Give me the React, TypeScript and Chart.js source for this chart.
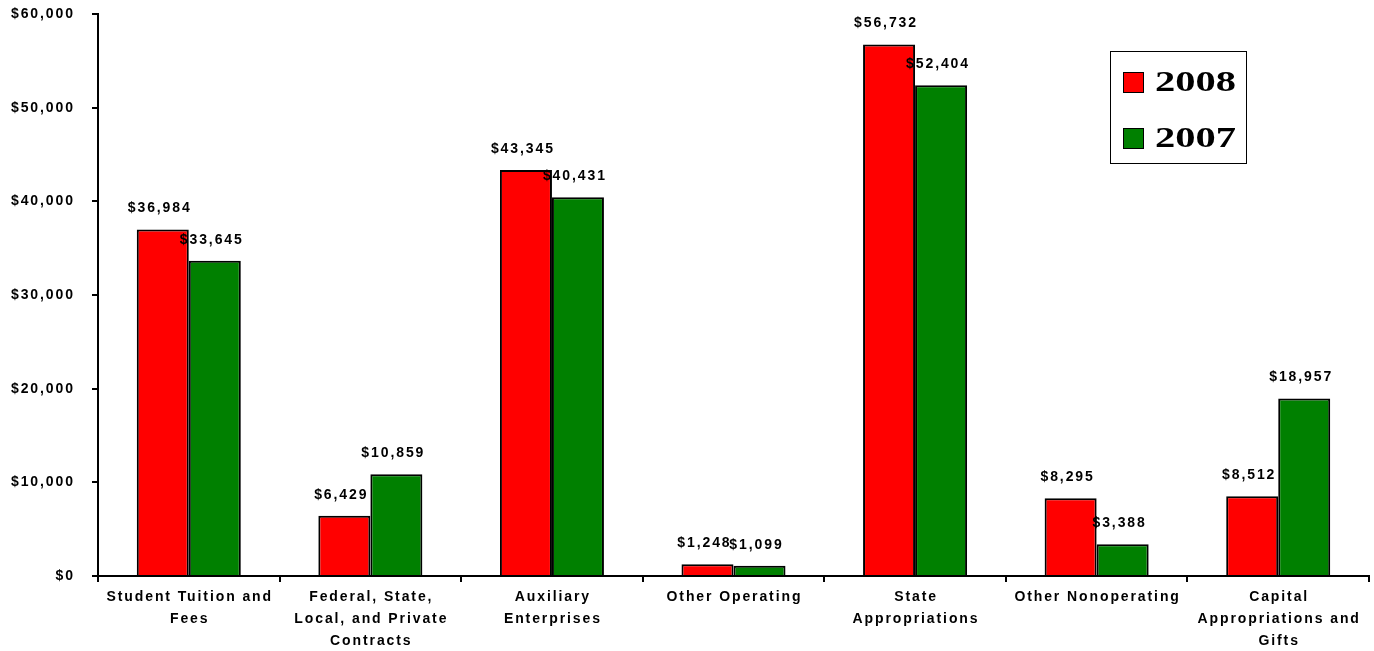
import React, { useEffect, useRef } from "react";
import { Chart, registerables } from "chart.js";

Chart.register(...registerables);

const categories: string[][] = [
  ["Student Tuition and", "Fees"],
  ["Federal, State,", "Local, and Private", "Contracts"],
  ["Auxiliary", "Enterprises"],
  ["Other Operating"],
  ["State", "Appropriations"],
  ["Other Nonoperating"],
  ["Capital", "Appropriations and", "Gifts"],
];
const seriesLabels = ["2008", "2007"];
const values2008 = [36984, 6429, 43345, 1248, 56732, 8295, 8512];
const values2007 = [33645, 10859, 40431, 1099, 52404, 3388, 18957];
const yTickValues = [0, 10000, 20000, 30000, 40000, 50000, 60000];

const SANS = 'bold 14px "Liberation Sans", Arial, sans-serif';
const SANS_SPACING = 1.9;
const SERIF = 'bold 30px "Liberation Serif", "Times New Roman", serif';
const SERIF_SX = 1.35;

const money = (v: number) => "$" + v.toLocaleString("en-US");

function drawText(
  ctx: CanvasRenderingContext2D,
  text: string,
  x: number,
  y: number,
  align: CanvasTextAlign,
  baseline: CanvasTextBaseline,
  font: string,
  sx: number,
  spacing: number
) {
  ctx.save();
  ctx.font = font;
  (ctx as any).letterSpacing = spacing + "px";
  ctx.fillStyle = "#000";
  ctx.textAlign = align;
  ctx.textBaseline = baseline;
  let dx = 0;
  if (align === "center") dx = spacing / 2;
  if (align === "right") dx = spacing;
  ctx.translate(x + dx, y);
  ctx.scale(sx, 1);
  ctx.fillText(text, 0, 0);
  ctx.restore();
}

const sans = (ctx: CanvasRenderingContext2D, t: string, x: number, y: number, a: CanvasTextAlign) =>
  drawText(ctx, t, x, y, a, "middle", SANS, 1, SANS_SPACING);

const textPlugin = {
  id: "textPlugin",
  afterDraw(chart: any) {
    const ctx: CanvasRenderingContext2D = chart.ctx;
    const xs = chart.scales.x;
    const ys = chart.scales.y;
    yTickValues.forEach((v) => {
      sans(ctx, money(v), 73, ys.getPixelForValue(v), "right");
    });
    categories.forEach((lines, i) => {
      const cx = xs.getPixelForValue(i);
      lines.forEach((ln, j) => {
        sans(ctx, ln, cx, 597 + j * 22, "center");
      });
    });
    chart.data.datasets.forEach((ds: any, di: number) => {
      const meta = chart.getDatasetMeta(di);
      meta.data.forEach((bar: any, i: number) => {
        sans(ctx, money(ds.data[i]), bar.x - 4, bar.y - 21, "center");
      });
    });
    ctx.save();
    ctx.strokeStyle = "#000";
    ctx.lineWidth = 1;
    ctx.strokeRect(1110.5, 51.5, 136, 112);
    ctx.restore();
    chart.data.datasets.forEach((ds: any, di: number) => {
      const sy = 72 + di * 56;
      ctx.save();
      ctx.fillStyle = ds.backgroundColor;
      ctx.fillRect(1123, sy, 21, 21);
      ctx.strokeStyle = "#000";
      ctx.lineWidth = 1;
      ctx.strokeRect(1123.5, sy + 0.5, 20, 20);
      ctx.restore();
      drawText(ctx, ds.label, 1155, sy + 19, "left", "alphabetic", SERIF, SERIF_SX, 0);
    });
  },
};

export default function App() {
  const ref = useRef<HTMLCanvasElement | null>(null);
  useEffect(() => {
    if (!ref.current) return;
    const chart = new Chart(ref.current, {
      type: "bar",
      data: {
        labels: categories,
        datasets: [
          {
            label: seriesLabels[0],
            data: values2008,
            backgroundColor: "#FF0000",
            borderColor: "#000",
            borderWidth: 2,
            categoryPercentage: 0.573,
            barPercentage: 1,
          },
          {
            label: seriesLabels[1],
            data: values2007,
            backgroundColor: "#008000",
            borderColor: "#000",
            borderWidth: 2,
            categoryPercentage: 0.573,
            barPercentage: 1,
          },
        ],
      },
      options: {
        responsive: false,
        animation: false,
        layout: { padding: { left: 0, right: 5, top: 14, bottom: 0 } },
        plugins: {
          legend: { display: false },
          tooltip: { enabled: false },
          title: { display: false },
        },
        scales: {
          x: {
            ticks: { display: false },
            grid: {
              display: true,
              drawOnChartArea: false,
              drawTicks: true,
              tickLength: 6,
              color: "#000",
              lineWidth: 2,
              offset: true,
            },
            border: { display: true, color: "#000", width: 2 },
            afterFit: (s: any) => {
              s.height = 75;
            },
          },
          y: {
            min: 0,
            max: 60000,
            ticks: { display: false, stepSize: 10000 },
            grid: {
              display: true,
              drawOnChartArea: false,
              drawTicks: true,
              tickLength: 6,
              color: "#000",
              lineWidth: 2,
            },
            border: { display: true, color: "#000", width: 2 },
            afterFit: (s: any) => {
              s.width = 98;
            },
          },
        },
      },
      plugins: [textPlugin],
    });
    return () => chart.destroy();
  }, []);
  return (
    <div style={{ position: "absolute", left: 0, top: 0, width: 1374, height: 651, background: "#fff" }}>
      <canvas ref={ref} width={1374} height={651} />
    </div>
  );
}
